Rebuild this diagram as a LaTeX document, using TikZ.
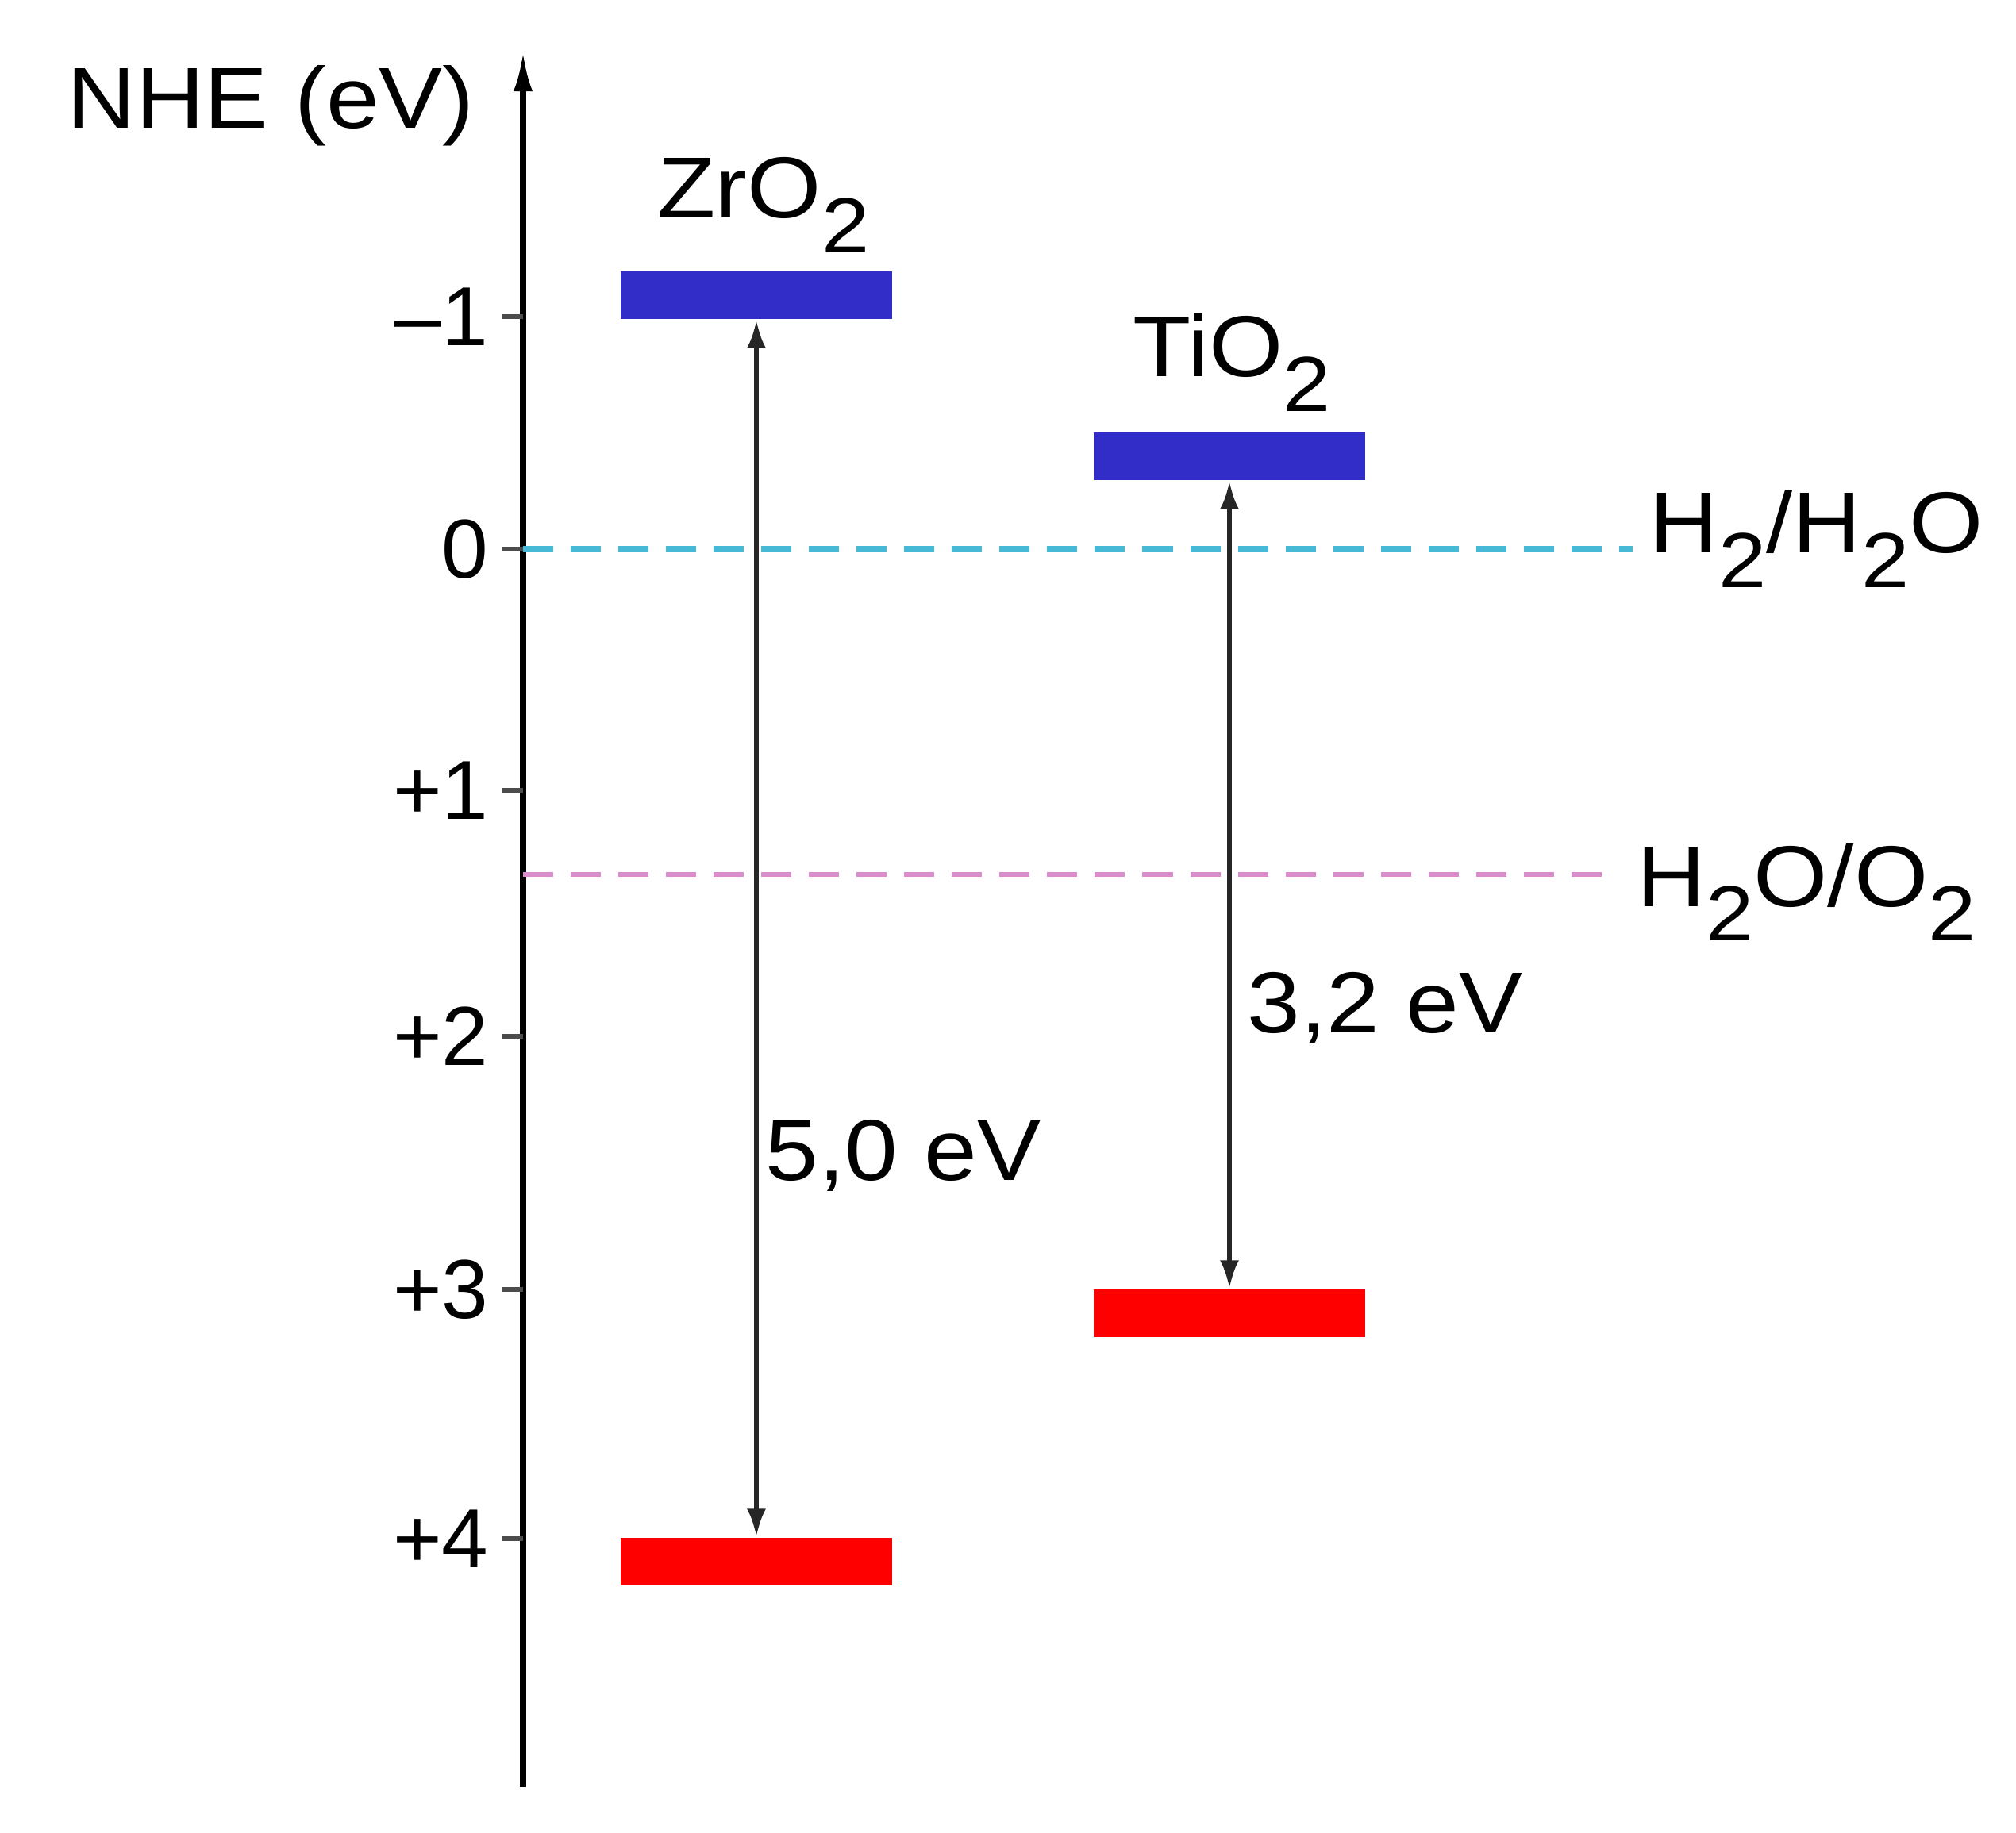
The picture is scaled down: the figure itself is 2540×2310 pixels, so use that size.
\documentclass[tikz,border=0pt]{standalone}
\usepackage{fontspec}
\setmainfont{Liberation Sans}
\usetikzlibrary{arrows.meta}
\definecolor{cbblue}{RGB}{50,45,200}
\definecolor{vbred}{RGB}{255,0,0}
\definecolor{hline}{RGB}{70,185,215}
\definecolor{oline}{RGB}{218,140,205}
\newcommand\lowsub[1]{\raisebox{-0.4em}{\fontsize{28}{32}\selectfont #1}}
\newcommand\wtext[1]{\scalebox{1.1}[1]{#1}}
\begin{document}
\begin{tikzpicture}[x=0.01cm,y=-0.01cm,
  lbl/.style={font=\fontsize{31}{36}\selectfont, inner sep=0pt, text=black},
  ticklbl/.style={font=\fontsize{30}{36}\selectfont, inner sep=0pt, text=black},
  band/.style={minimum width=3.42cm, minimum height=0.6cm, inner sep=0pt, draw=none},
  cb/.style={band, fill=cbblue},
  vb/.style={band, fill=vbred},
  gaparrow/.style={line width=1.8pt, draw=black!85, {Latex[length=0.36cm,width=0.24cm]}-{Latex[length=0.36cm,width=0.24cm]}},
  axisline/.style={line width=2pt, -{Latex[length=0.5cm,width=0.24cm]}},
  tickmark/.style={line width=1.5pt, draw=black!70},
  redox/.style={dash pattern=on 0.38cm off 0.22cm}
]
\useasboundingbox (0,0) rectangle (2540,2310);

% axis
\coordinate (axbot) at (659,2252);
\coordinate (axtop) at (659,65);
\draw[axisline] (axbot) -- (axtop);
\node[lbl, anchor=base west] (axlabel) at (84,162) {\wtext{NHE (eV)}};

% ticks
\foreach \name/\yy/\lab in {tm1/399/{–1}, t0/692/0, t1/996/+1, t2/1306/+2, t3/1625/+3, t4/1939/+4}{
  \coordinate (\name a) at (632,\yy);
  \coordinate (\name b) at (659,\yy);
  \draw[tickmark] (\name a) -- (\name b);
  \node[ticklbl, anchor=east] (\name l) at (616,\yy) {\lab};
}

% redox levels
\coordinate (hs) at (659,692);
\coordinate (he) at (2057,692);
\draw[redox, hline, line width=2pt] (hs) -- (he);
\node[lbl, anchor=base west] (hlab) at (2078,697) {\wtext{H\lowsub{2}/H\lowsub{2}O}};

\coordinate (os) at (659,1102);
\coordinate (oe) at (2033,1102);
\draw[redox, oline, line width=1.5pt] (os) -- (oe);
\node[lbl, anchor=base west] (olab) at (2062,1142) {\wtext{H\lowsub{2}O/O\lowsub{2}}};

% bands
\node[cb] (zcb) at (953,372) {};
\node[vb] (zvb) at (953,1968) {};
\node[cb] (tcb) at (1549,575) {};
\node[vb] (tvb) at (1549,1655) {};

\node[lbl, anchor=base] (zname) at (962,275) {\wtext{ZrO\lowsub{2}}};
\node[lbl, anchor=base] (tname) at (1552,475) {\wtext{TiO\lowsub{2}}};

\draw[gaparrow] (zcb.south) -- (zvb.north);
\draw[gaparrow] (tcb.south) -- (tvb.north);

\node[lbl, anchor=base west] (zgap) at (964,1487) {\wtext{5,0 eV}};
\node[lbl, anchor=base west] (tgap) at (1571,1301) {\wtext{3,2 eV}};
\end{tikzpicture}
\end{document}
